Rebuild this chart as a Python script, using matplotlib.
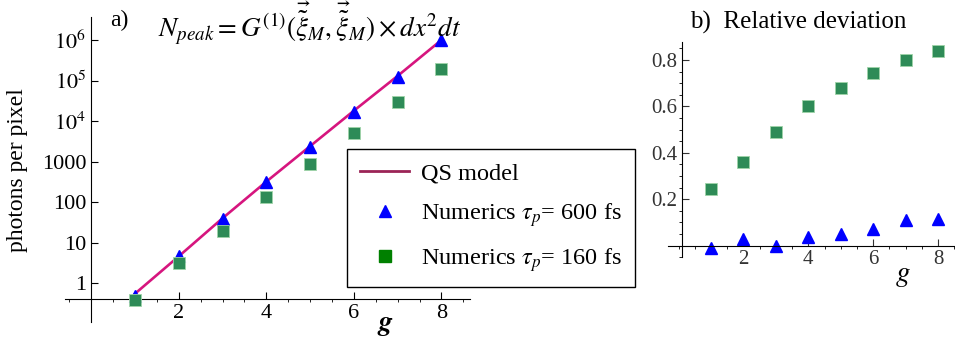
import numpy as np
import matplotlib
matplotlib.use('Agg')
import matplotlib.pyplot as plt
from matplotlib import ticker
from matplotlib.lines import Line2D

plt.rcParams['font.family'] = 'Liberation Serif'
plt.rcParams['mathtext.fontset'] = 'stix'

g = [1, 2, 3, 4, 5, 6, 7, 8]
qs_model = [0.55, 4.6, 40, 320, 2400, 18000, 1.3e5, 1.0e6]
num_600 = [0.48, 4.6, 38, 310, 2300, 16600, 1.2e5, 1.0e6]
num_160 = [0.38, 3.1, 19, 133, 870, 5000, 3.0e4, 1.9e5]
dev_600 = [-0.01, 0.03, 0.0, 0.035, 0.05, 0.07, 0.11, 0.115]
dev_160 = [0.242, 0.36, 0.49, 0.60, 0.68, 0.745, 0.80, 0.84]

ytick_vals = [1, 10, 100, 1000, 1e4, 1e5, 1e6]
ytick_labels = ['1', '10', '100', '1000', r'$10^4$', r'$10^5$', r'$10^6$']

line_col = '#d6157e'
legend_line_col = '#9b2456'
tri_col = '#0000ff'
sq_col = '#2e8b57'
fs = 16

fig = plt.figure(figsize=(9.55, 3.47), dpi=100)

# ---- panel a
ax1 = fig.add_axes([0.068, 0.072, 0.424, 0.879])
ax1.set_yscale('log')
ax1.plot(g, qs_model, color=line_col, lw=1.9, zorder=2)
ax1.plot(g, num_600, '^', color=tri_col, ms=9, zorder=3)
ax1.plot(g, num_160, 's', color=sq_col, ms=8, mec='#9fd4a8', mew=0.6, zorder=4)
ax1.set_xlim(-0.6, 8.65)
ax1.set_ylim(0.11, 3.7e6)
ax1.spines['left'].set_position(('data', 0))
ax1.spines['bottom'].set_position(('data', 0.4))
ax1.spines['top'].set_visible(False)
ax1.spines['right'].set_visible(False)
ax1.set_xticks([2, 4, 6, 8])
ax1.xaxis.set_minor_locator(ticker.MultipleLocator(0.5))
ax1.set_yticks(ytick_vals)
ax1.set_yticklabels(ytick_labels)
ax1.yaxis.set_minor_locator(ticker.LogLocator(base=10, subs=np.arange(2, 10)))
ax1.yaxis.set_minor_formatter(ticker.NullFormatter())
ax1.tick_params(axis='both', direction='in', labelsize=fs, width=0.8)
ax1.tick_params(axis='both', which='major', length=5)
ax1.tick_params(axis='both', which='minor', length=2.5)
fig.text(17 / 955, 1 - 170 / 347, 'photons per pixel', rotation=90,
         fontsize=fs + 1, ha='center', va='center')
fig.text(385 / 955, 1 - 326 / 347, r'$\boldsymbol{g}$', fontsize=20, ha='center', va='center')
fig.text(110 / 955, 1 - 20 / 347, 'a)', fontsize=fs + 1, ha='left', va='center')
fig.text(158 / 955, 1 - 23 / 347,
         r'$N_{peak}=G^{(1)}(\vec{\tilde{\xi}}_M,\vec{\tilde{\xi}}_M)\times dx^2dt$',
         fontsize=19.5, ha='left', va='center')

# ---- panel b
ax2 = fig.add_axes([0.699, 0.259, 0.301, 0.62])
ax2.plot(g, dev_160, 's', color=sq_col, ms=8, mec='#9fd4a8', mew=0.6)
ax2.plot(g, dev_600, '^', color=tri_col, ms=9)
ax2.set_xlim(-0.34, 8.52)
ax2.set_ylim(-0.05, 0.878)
ax2.spines['left'].set_position(('data', 0.1))
ax2.spines['bottom'].set_position(('data', 0))
ax2.spines['top'].set_visible(False)
ax2.spines['right'].set_visible(False)
ax2.set_xticks([2, 4, 6, 8])
ax2.set_yticks([0.2, 0.4, 0.6, 0.8])
ax2.xaxis.set_minor_locator(ticker.MultipleLocator(0.5))
ax2.yaxis.set_minor_locator(ticker.MultipleLocator(0.05))
ax2.tick_params(axis='both', direction='in', labelsize=fs - 1, width=0.8, colors='#333333')
ax2.tick_params(axis='both', which='major', length=5)
ax2.tick_params(axis='both', which='minor', length=2.5)
fig.text(903 / 955, 1 - 276 / 347, r'$g$', fontsize=21, ha='center', va='center')
fig.text(690 / 955, 1 - 22 / 347, 'b)  Relative deviation', fontsize=18,
         ha='left', va='center')

# ---- legend
handles = [
    Line2D([], [], color=legend_line_col, lw=2),
    Line2D([], [], ls='none', marker='^', color=tri_col, ms=9),
    Line2D([], [], ls='none', marker='s', color='#008000', ms=9),
]
labels = ['QS model', r'Numerics $\tau_p$= 600 fs', r'Numerics $\tau_p$= 160 fs']
leg = fig.legend(handles, labels, loc='upper left', bbox_to_anchor=(347 / 955, 1 - 149 / 347),
                 borderaxespad=0, fontsize=17.5, frameon=True, fancybox=False,
                 edgecolor='black', framealpha=1, handlelength=2.0, handletextpad=0.5,
                 labelspacing=0.7, borderpad=0.55)
leg.get_frame().set_linewidth(1.0)

fig.savefig('out.png', dpi=100)
